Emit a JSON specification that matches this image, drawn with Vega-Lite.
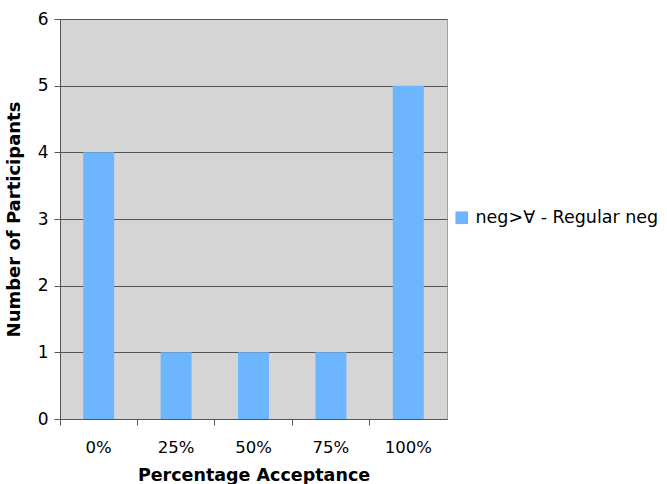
{
  "$schema": "https://vega.github.io/schema/vega-lite/v6.json",
  "autosize": "none",
  "width": 387,
  "height": 400,
  "padding": {"left": 60, "top": 19, "right": 220, "bottom": 65},
  "background": "white",
  "config": {
    "font": "DejaVu Sans",
    "view": {"fill": "#d5d5d5", "stroke": "#a0a0a0", "strokeWidth": 1},
    "axis": {"labelFont": "DejaVu Sans", "titleFont": "DejaVu Sans", "labelColor": "#000", "titleColor": "#000", "domainColor": "#555", "tickColor": "#555"}
  },
  "data": {
    "values": [
      {"acceptance": "0%", "participants": 4, "series": "neg>∀ - Regular neg"},
      {"acceptance": "25%", "participants": 1, "series": "neg>∀ - Regular neg"},
      {"acceptance": "50%", "participants": 1, "series": "neg>∀ - Regular neg"},
      {"acceptance": "75%", "participants": 1, "series": "neg>∀ - Regular neg"},
      {"acceptance": "100%", "participants": 5, "series": "neg>∀ - Regular neg"}
    ]
  },
  "mark": {"type": "bar", "width": {"band": 0.4}},
  "encoding": {
    "x": {
      "field": "acceptance",
      "type": "nominal",
      "sort": null,
      "scale": {"paddingInner": 0, "paddingOuter": 0},
      "axis": {
        "title": "Percentage Acceptance",
        "titleFontSize": 17.5,
        "titleFontWeight": "bold",
        "titlePadding": 11,
        "labelFontSize": 16.5,
        "labelAngle": 0,
        "labelPadding": 14,
        "tickSize": 6,
        "bandPosition": 0,
        "grid": false
      }
    },
    "y": {
      "field": "participants",
      "type": "quantitative",
      "scale": {"domain": [0, 6], "nice": false},
      "axis": {
        "title": "Number of Participants",
        "titleFontSize": 18,
        "titleFontWeight": "bold",
        "titlePadding": 14,
        "labelFontSize": 17,
        "labelPadding": 6,
        "labelOverlap": false,
        "tickSize": 6,
        "values": [0, 1, 2, 3, 4, 5, 6],
        "grid": true,
        "gridColor": "#555",
        "gridOpacity": 1,
        "gridWidth": 1
      }
    },
    "color": {
      "field": "series",
      "type": "nominal",
      "scale": {"range": ["#6db6ff"]},
      "legend": {
        "title": null,
        "orient": "none",
        "legendX": 393,
        "legendY": 190,
        "symbolType": "square",
        "symbolSize": 160,
        "symbolStrokeWidth": 0,
        "symbolOffset": 0,
        "labelOffset": 5,
        "labelFontSize": 17.5,
        "labelFont": "DejaVu Sans",
        "labelColor": "#000",
        "labelLimit": 300
      }
    }
  }
}
